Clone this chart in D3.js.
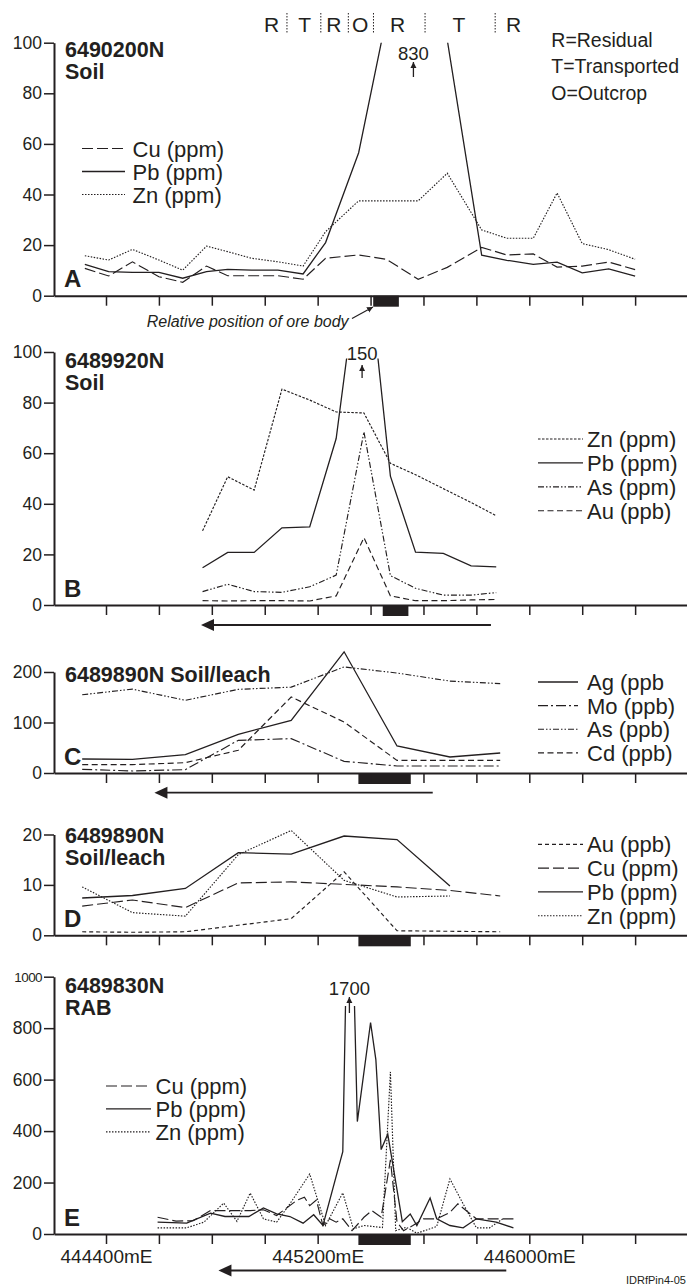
<!DOCTYPE html>
<html>
<head>
<meta charset="utf-8">
<script src="https://cdn.jsdelivr.net/npm/d3@7"></script>
<style>
body { margin: 0; background: #fff; }
text { font-family: "Liberation Sans", Arial, sans-serif; fill: #231f20; }
</style>
</head>
<body>
<script>
// ---- data (eastings in mE, values in ppm / ppb) ----
var xTicks = [444400, 444600, 444800, 445000, 445200, 445400, 445600, 445800, 446000, 446200, 446400];
var xTickLabels = {444400: "444400mE", 445200: "445200mE", 446000: "446000mE"};

// A: 6490200N soil
var aX  = [444320, 444410, 444500, 444600, 444690, 444780, 444860, 444950, 445050, 445145, 445230,
           445355, 445460, 445580, 445690, 445820, 445915, 446015, 446105, 446200, 446300, 446400];
var aCu = [10.8, 7.8, 13.4, 7.5, 5.3, 11.7, 7.9, 7.9, 7.9, 6.5, 14.8, 16.1, 14.4, 6.5, 11.2, 19.1, 16.1, 16.5, 11.3, 11.7, 13.3, 10.3];
var aPb = [12.4, 9.5, 9.2, 9.2, 6.9, 9.5, 10.4, 10.1, 10.1, 8.6, 21, 56.5, 110, 830, 101, 16, 14, 12.4, 13.3, 9, 10.6, 7.7];
var aZn = [15.8, 14.1, 18.3, 14.1, 10.1, 19.6, 17.4, 14.8, 13.4, 11.7, 25.3, 37.5, 37.5, 37.5, 48.4, 26, 22.7, 22.7, 40.6, 20.6, 18.2, 14.4];

// B: 6489920N soil
var bX  = [444765, 444860, 444960, 445065, 445170, 445270, 445375, 445475, 445570, 445675, 445780, 445875];
var bZn = [29.3, 50.7, 45.4, 85.3, 81, 76.3, 75.9, 56, 51.5, 46, 40.5, 35.3];
var bPb = [14.7, 20.8, 20.8, 30.5, 30.9, 65.8, 150, 50.9, 20.9, 20.4, 15.5, 15.1];
var bAs = [5.3, 8.2, 5.3, 5, 7.2, 11.8, 68.4, 11.6, 6.6, 3.9, 3.9, 4.9];
var bAu = [1.7, 1.6, 1.7, 1.7, 1.6, 3.6, 26.6, 3.6, 1.7, 1.7, 2, 2.2];

// C: 6489890N soil/leach (ppb)
var cX  = [444310, 444500, 444700, 444900, 445100, 445300, 445500, 445700, 445890];
var cAg = [27.7, 27, 36.3, 76.6, 104.3, 240, 53.5, 31.7, 39.6];
var cMo = [7.3, 4, 6.6, 64.7, 68, 23.1, 13.9, 13.9, 13.9];
var cAs = [155, 166, 144, 165.7, 170, 210, 198, 182, 177];
var cCd = [16.5, 16.5, 20.5, 45, 150.5, 101, 25, 25, 25];

// D: 6489890N soil/leach
var dX  = [444310, 444500, 444700, 444900, 445100, 445300, 445500, 445700, 445890];
var dAu = [0.7, 0.6, 0.7, 2, 3.3, 12.6, 0.9, 0.8, 0.7];
var dCu = [5.8, 7, 5.5, 10.4, 10.6, 10.1, 9.6, 8.9, 7.8];
var dPb = [7.4, 7.9, 9.3, 16.4, 16.1, 19.7, 19, 9.8];
var dZn = [9.6, 4.5, 3.8, 16, 20.8, 10.9, 7.6, 7.8];

// E: 6489830N RAB
var eXCu = [444595, 444665, 444730, 444795, 444870, 444945, 444995, 445045, 445120, 445150, 445170, 445195, 445220, 445245, 445270, 445295,
            445330, 445375, 445405, 445440, 445475, 445500, 445525, 445560, 445600, 445650, 445700, 445730, 445800, 445875, 445940];
var eCu  = [65, 50, 52, 91, 91, 91, 94, 72, 130, 143, 110, 132, 33, 59, 46, 59, 13, 65, 91, 65, 288, 46, 13, 33, 59, 59, 84, 117, 59, 59, 59];
var eXPb = [444595, 444705, 444795, 444850, 444940, 444995, 445045, 445095, 445145, 445185, 445220, 445295, 445320, 445350,
            445400, 445420, 445440, 445465, 445520, 445550, 445575, 445625, 445650, 445700, 445750, 445800, 445875, 445940];
var ePb  = [46, 42, 81, 68, 68, 101, 78, 68, 42, 75, 33, 320, 1700, 437, 822, 678, 328, 388, 48, 78, 33, 140, 59, 33, 24, 59, 46, 24];
var eXZn = [444595, 444705, 444770, 444845, 444895, 444945, 444995, 445045, 445095, 445170, 445230, 445295, 445335,
            445375, 445445, 445475, 445495, 445535, 445575, 445650, 445700, 445750, 445800, 445850, 445900];
var eZn  = [24, 24, 46, 120, 49, 159, 59, 46, 117, 233, 33, 160, 20, 33, 25, 630, 13, 26, 3, 29, 214, 117, 24, 24, 59];

// ore body extents and sampling direction arrows (mE)
var oreA = [445410, 445507];
var oreB = [445446, 445543];
var oreCDE = [445354, 445552];
var arrowB = [445855, 444759];
var arrowC = [445635, 444583];
var arrowE = [445913, 444825];

// regolith zones on line A
var zoneLabels = ["R", "T", "R", "O", "R", "T", "R"];
var zoneLabelX = [445026, 445151, 445261, 445361, 445502, 445734, 445941];
var zoneBounds = [445084, 445212, 445316, 445411, 445606, 445871];
var zoneKey = ["R=Residual", "T=Transported", "O=Outcrop"];

// ---- drawing ----
var w = 687, h = 1287;
var ink = "#231f20";
var svg = d3.select("body").append("svg")
	.attr("width", w)
	.attr("height", h);

var defs = svg.append("defs");
defs.append("marker")
	.attr("id", "tip")
	.attr("viewBox", "0 0 10 10")
	.attr("refX", 10).attr("refY", 5)
	.attr("markerUnits", "userSpaceOnUse")
	.attr("markerWidth", 6).attr("markerHeight", 7)
	.attr("orient", "auto")
	.append("path").attr("d", "M0,0L10,5L0,10z").attr("fill", ink);

var x = d3.scaleLinear().domain([444400, 446000]).range([106, 529.3]);
var xAxisScale = x.copy().domain([x.invert(54), x.invert(687)]).range([54, 687]);

var dash = {
	solid: null,
	longdash: "11,4",
	dashed: "6,3.5",
	shortdash: "4,3",
	dotted: "1.5,1.5",
	dots: "2.5,1.5",
	dashdot: "10,3,2,3",
	dashdotdot: "6,2,1.5,2,1.5,2"
};

function panel(p) {
	var y = d3.scaleLinear().domain([0, p.max]).range([p.bottom, p.top]);

	if (p.clipTop !== undefined) {
		defs.append("clipPath").attr("id", "clip" + p.letter)
			.append("rect")
			.attr("x", 54).attr("y", p.clipTop)
			.attr("width", w - 54).attr("height", p.bottom - p.clipTop + 20);
	}

	var g = svg.append("g");
	if (p.clipTop !== undefined) g.attr("clip-path", "url(#clip" + p.letter + ")");

	p.series.forEach(function(s) {
		var pts = s.v.map(function(v, i) { return [s.x[i], v]; });
		g.append("path")
			.attr("d", d3.line()
				.x(function(d) { return x(d[0]); })
				.y(function(d) { return y(d[1]); })(pts))
			.attr("fill", "none")
			.attr("stroke", ink)
			.attr("stroke-width", s.style == "solid" ? 1.3 : 1.15)
			.attr("stroke-dasharray", dash[s.style]);
	});

	// ore body
	svg.append("rect")
		.attr("x", x(p.ore[0]))
		.attr("y", p.bottom)
		.attr("width", x(p.ore[1]) - x(p.ore[0]))
		.attr("height", 11)
		.attr("fill", ink);

	// axes
	var ya = svg.append("g")
		.attr("transform", "translate(54,0)")
		.call(d3.axisLeft(y).tickValues(p.ticks).tickSize(10).tickSizeOuter(0).tickPadding(2)
			.tickFormat(d3.format("d")));
	ya.attr("font-size", 17.5).attr("font-family", "Liberation Sans, Arial, sans-serif");
	ya.select(".domain").attr("stroke", ink).attr("stroke-width", 2);
	ya.selectAll(".tick line").attr("stroke", ink).attr("stroke-width", 1.5);
	ya.selectAll(".tick text").attr("fill", ink)
		.filter(function(d) { return d >= 1000; })
		.attr("font-size", 13.5).attr("letter-spacing", -0.6);

	var xa = svg.append("g")
		.attr("transform", "translate(0," + p.bottom + ")")
		.call(d3.axisBottom(xAxisScale).tickValues(xTicks).tickSize(10).tickSizeOuter(0).tickPadding(6)
			.tickFormat(function(d) { return p.xlabels ? (xTickLabels[d] || "") : ""; }));
	xa.attr("font-size", 19).attr("font-family", "Liberation Sans, Arial, sans-serif");
	xa.select(".domain").attr("stroke", ink).attr("stroke-width", 2);
	xa.selectAll(".tick line").attr("stroke", ink).attr("stroke-width", 1.5);
	xa.selectAll(".tick text").attr("fill", ink);

	// title and letter
	p.title.forEach(function(t, i) {
		svg.append("text")
			.attr("x", 65).attr("y", p.titleY + i * 22)
			.attr("font-size", 21.5).attr("font-weight", "bold")
			.text(t);
	});
	svg.append("text")
		.attr("x", 64).attr("y", p.bottom - 8.5)
		.attr("font-size", 24).attr("font-weight", "bold")
		.text(p.letter);

	// legend
	p.series.forEach(function(s, i) {
		var ly = p.legend.y + i * p.legend.step;
		svg.append("line")
			.attr("x1", p.legend.x1).attr("x2", p.legend.x2)
			.attr("y1", ly).attr("y2", ly)
			.attr("stroke", ink)
			.attr("stroke-width", s.style == "solid" ? 1.3 : 1.15)
			.attr("stroke-dasharray", dash[s.style]);
		svg.append("text")
			.attr("x", p.legend.tx).attr("y", ly + 8)
			.attr("font-size", 22)
			.text(s.name);
	});

	// sampling direction arrow
	if (p.arrow) {
		var ax0 = x(p.arrow[0]), ax1 = x(p.arrow[1]), ay = p.bottom + p.arrowDy;
		svg.append("line")
			.attr("x1", ax0).attr("x2", ax1 + 10)
			.attr("y1", ay).attr("y2", ay)
			.attr("stroke", ink).attr("stroke-width", 1.8);
		svg.append("path")
			.attr("d", "M" + ax1 + "," + ay + "l13,-6v12z")
			.attr("fill", ink);
	}

	// off-scale peak note
	if (p.peak) {
		var px = x(p.peak.x);
		svg.append("text")
			.attr("x", px).attr("y", p.peak.ty)
			.attr("text-anchor", "middle")
			.attr("font-size", 18.5)
			.text(p.peak.label);
		svg.append("line")
			.attr("x1", px).attr("x2", px)
			.attr("y1", p.peak.a0).attr("y2", p.peak.a1)
			.attr("stroke", ink).attr("stroke-width", 1.3)
			.attr("marker-end", "url(#tip)");
	}
	return y;
}

panel({
	letter: "A", max: 100, top: 42.7, bottom: 295.7, clipTop: 42.7,
	ticks: [0, 20, 40, 60, 80, 100], ore: oreA,
	title: ["6490200N", "Soil"], titleY: 57.3,
	series: [
		{name: "Cu (ppm)", x: aX, v: aCu, style: "longdash"},
		{name: "Pb (ppm)", x: aX, v: aPb, style: "solid"},
		{name: "Zn (ppm)", x: aX, v: aZn, style: "dotted"}
	],
	legend: {x1: 82, x2: 125, tx: 132.5, y: 148.5, step: 23},
	peak: {x: 445562, label: "830", ty: 60, a0: 77, a1: 62}
});

panel({
	letter: "B", max: 100, top: 352, bottom: 605, clipTop: 358.5,
	ticks: [0, 20, 40, 60, 80, 100], ore: oreB,
	title: ["6489920N", "Soil"], titleY: 368.3,
	series: [
		{name: "Zn (ppm)", x: bX, v: bZn, style: "dots"},
		{name: "Pb (ppm)", x: bX, v: bPb, style: "solid"},
		{name: "As (ppm)", x: bX, v: bAs, style: "dashdotdot"},
		{name: "Au (ppb)", x: bX, v: bAu, style: "dashed"}
	],
	legend: {x1: 538, x2: 583, tx: 587, y: 439, step: 23.9},
	arrow: arrowB, arrowDy: 20,
	peak: {x: 445368, label: "150", ty: 360, a0: 378, a1: 365}
});

panel({
	letter: "C", max: 200, top: 672, bottom: 773,
	ticks: [0, 100, 200], ore: oreCDE,
	title: ["6489890N Soil/leach"], titleY: 681.7,
	series: [
		{name: "Ag (ppb", x: cX, v: cAg, style: "solid"},
		{name: "Mo (ppb)", x: cX, v: cMo, style: "dashdot"},
		{name: "As (ppb)", x: cX, v: cAs, style: "dashdotdot"},
		{name: "Cd (ppb)", x: cX, v: cCd, style: "dashed"}
	],
	legend: {x1: 538, x2: 578, tx: 587, y: 682, step: 23.6},
	arrow: arrowC, arrowDy: 19.7
});

panel({
	letter: "D", max: 20, top: 834.5, bottom: 935.3,
	ticks: [0, 10, 20], ore: oreCDE,
	title: ["6489890N", "Soil/leach"], titleY: 842.5,
	series: [
		{name: "Au (ppb)", x: dX, v: dAu, style: "shortdash"},
		{name: "Cu (ppm)", x: dX, v: dCu, style: "longdash"},
		{name: "Pb (ppm)", x: dX, v: dPb, style: "solid"},
		{name: "Zn (ppm)", x: dX, v: dZn, style: "dotted"}
	],
	legend: {x1: 538, x2: 583, tx: 587, y: 844.3, step: 23.8}
});

panel({
	letter: "E", max: 1000, top: 976.7, bottom: 1234, clipTop: 1006,
	ticks: [0, 200, 400, 600, 800, 1000], ore: oreCDE, xlabels: true,
	title: ["6489830N", "RAB"], titleY: 992.5,
	series: [
		{name: "Cu (ppm)", x: eXCu, v: eCu, style: "longdash"},
		{name: "Pb (ppm)", x: eXPb, v: ePb, style: "solid"},
		{name: "Zn (ppm)", x: eXZn, v: eZn, style: "dotted"}
	],
	legend: {x1: 106, x2: 151, tx: 155.5, y: 1086, step: 22.9},
	arrow: arrowE, arrowDy: 36.5,
	peak: {x: 445320, label: "1700", ty: 995, a0: 1013, a1: 997}
});

// regolith zone labels over line A
svg.selectAll(".zone")
	.data(zoneLabels)
	.enter()
	.append("text")
	.attr("x", function(d, i) { return x(zoneLabelX[i]); })
	.attr("y", 31.7)
	.attr("text-anchor", "middle")
	.attr("font-size", 21)
	.text(function(d) { return d; });
svg.selectAll(".bound")
	.data(zoneBounds)
	.enter()
	.append("line")
	.attr("x1", function(d) { return x(d); })
	.attr("x2", function(d) { return x(d); })
	.attr("y1", 13).attr("y2", 34)
	.attr("stroke", ink)
	.attr("stroke-width", 1)
	.attr("stroke-dasharray", "1.5,1.5");
zoneKey.forEach(function(t, i) {
	svg.append("text")
		.attr("x", 551.3).attr("y", 46.7 + i * 26.7)
		.attr("font-size", 19.5)
		.text(t);
});

// ore body pointer on line A
svg.append("text")
	.attr("x", 146.7).attr("y", 326.7)
	.attr("font-size", 16).attr("font-style", "italic")
	.text("Relative position of ore body");
svg.append("line")
	.attr("x1", 352).attr("y1", 318.5)
	.attr("x2", 373).attr("y2", 307)
	.attr("stroke", ink).attr("stroke-width", 1.2)
	.attr("marker-end", "url(#tip)");

svg.append("text")
	.attr("x", 626).attr("y", 1284)
	.attr("font-size", 11)
	.text("IDRfPin4-05");
</script>
</body>
</html>
